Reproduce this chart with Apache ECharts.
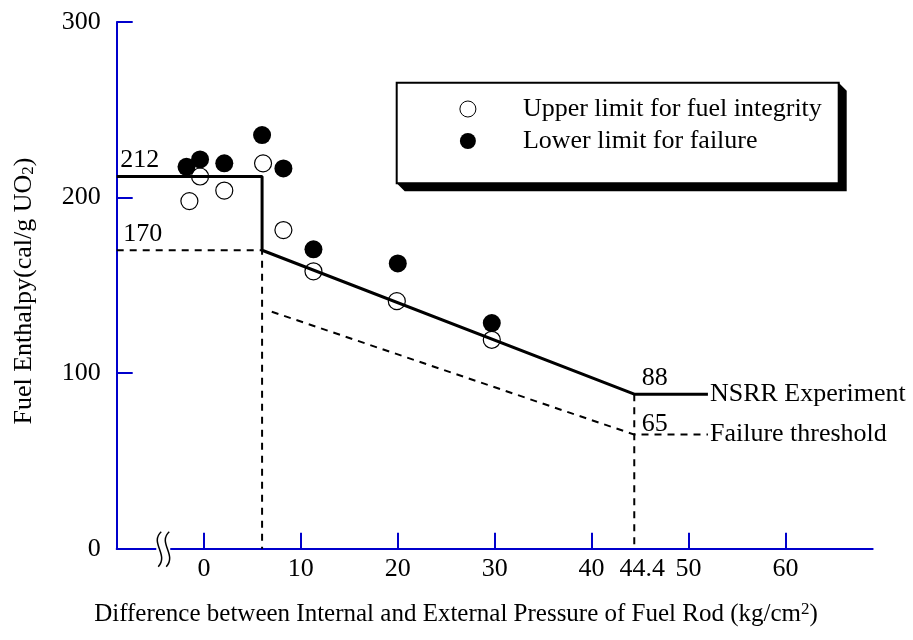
<!DOCTYPE html>
<html>
<head>
<meta charset="utf-8">
<script src="https://cdn.jsdelivr.net/npm/echarts@6/dist/echarts.min.js"></script>
<style>
  html, body { margin: 0; padding: 0; background: #fff; }
  #chart { width: 913px; height: 640px; }
</style>
</head>
<body>
<div id="chart"></div>
<script>
// ---- data ----
const xTickValues  = [0, 10, 20, 30, 40, 50, 60];
const xLabelValues = [0, 10, 20, 30, 40, 44.4, 50, 60];
const yTickValues  = [0, 100, 200, 300];

// measured rods: pressure difference (kg/cm2), enthalpy (cal/g UO2)
const upperLimitPts = [
  [-1.5, 198], [-0.4, 212], [2.1, 204], [6.1, 219.5],
  [8.2, 181.5], [11.3, 158], [19.9, 141], [29.7, 119]
];
const lowerLimitPts = [
  [-1.8, 217.5], [-0.4, 221.7], [2.1, 219.5], [6.0, 235.6],
  [8.2, 216.6], [11.3, 170.5], [20.0, 162.5], [29.7, 128.5]
];

// NSRR experiment limit curve
const nsrrX = [-9, 6, 6, 44.4, 52];
const nsrrY = [212, 212, 170, 88, 88];
// failure threshold curve
const thresholdX = [7, 44.4, 52];
const thresholdY = [135, 65, 65];
// dashed guide lines
const guideAX = [-9, 6, 6];
const guideAY = [170, 170, 0];
const guideBX = [44.4, 44.4];
const guideBY = [88, 0];
// annotated levels
const levelX = [-9, -9, 44.4, 44.4];
const levelY = [212, 170, 88, 65];

const SERIF = '"Liberation Serif", "Times New Roman", serif';
const BLUE = '#0000cc';
const zip = (xs, ys) => xs.map((x, i) => [x, ys[i]]);

const chart = echarts.init(document.getElementById('chart'));

const levelLabelCfg = [
  { distance: 3, offset: [0, -16] },
  { distance: 6, offset: [0, -16] },
  { distance: 7, offset: [0, -16] },
  { distance: 7, offset: [0, -10] }
];

chart.setOption({
  animation: false,
  backgroundColor: '#fff',
  grid: { left: 116.7, right: 40.3, top: 22, bottom: 91.3, containLabel: false },
  xAxis: {
    type: 'value', min: -9, max: 69,
    axisLine: { onZero: false, lineStyle: { color: BLUE, width: 2 } },
    axisTick: { inside: true, length: 16, customValues: xTickValues, lineStyle: { color: BLUE, width: 2 } },
    axisLabel: {
      customValues: xLabelValues, margin: 7, color: '#000',
      fontFamily: SERIF, fontSize: 26,
      formatter: v => v === 44.4 ? '{s|44.4}' : String(v),
      rich: { s: { fontFamily: SERIF, fontSize: 26, color: '#000', padding: [0, 0, 0, 16] } }
    },
    splitLine: { show: false }
  },
  yAxis: {
    type: 'value', min: 0, max: 300, interval: 100,
    axisLine: { show: true, onZero: false, lineStyle: { color: BLUE, width: 2 } },
    axisTick: { show: true, inside: true, length: 16, customValues: yTickValues, lineStyle: { color: BLUE, width: 2 } },
    axisLabel: { customValues: yTickValues, margin: 16, color: '#000', fontFamily: SERIF, fontSize: 26 },
    splitLine: { show: false }
  },
  legend: {
    orient: 'vertical', left: 459.4, top: 96, padding: 0,
    itemWidth: 100, itemHeight: 16, itemGap: 6,
    textStyle: { fontFamily: SERIF, fontSize: 26, color: '#000' },
    data: [
      { name: 'Upper limit for fuel integrity', icon: 'circle',
        itemStyle: { color: '#fff', borderColor: '#000', borderWidth: 1, opacity: 1 } },
      { name: 'Lower limit for failure', icon: 'circle',
        itemStyle: { color: '#000', borderWidth: 0, opacity: 1 } }
    ]
  },
  series: [
    {
      type: 'line', data: zip(guideAX, guideAY), symbol: 'none', silent: true,
      lineStyle: { color: '#000', width: 2, type: [7, 6] }, z: 1
    },
    {
      type: 'line', data: zip(guideBX, guideBY), symbol: 'none', silent: true,
      lineStyle: { color: '#000', width: 2, type: [7, 6] }, z: 1
    },
    {
      type: 'line', data: zip(thresholdX, thresholdY), symbol: 'none', silent: true,
      lineStyle: { color: '#000', width: 2, type: [7, 6] }, z: 1,
      endLabel: { show: true, formatter: 'Failure threshold', distance: 2,
        fontFamily: SERIF, fontSize: 26, color: '#000' }
    },
    {
      type: 'line', data: zip(nsrrX, nsrrY), symbol: 'none', silent: true,
      lineStyle: { color: '#000', width: 3 }, z: 1,
      endLabel: { show: true, formatter: 'NSRR Experiment', distance: 2,
        fontFamily: SERIF, fontSize: 26, color: '#000' }
    },
    {
      type: 'scatter', silent: true, symbolSize: 1, z: 1,
      itemStyle: { color: 'rgba(0,0,0,0)', opacity: 1 },
      data: levelX.map((x, i) => ({
        value: [x, levelY[i]],
        label: {
          show: true, position: 'right', formatter: String(levelY[i]),
          distance: levelLabelCfg[i].distance, offset: levelLabelCfg[i].offset,
          fontFamily: SERIF, fontSize: 26, color: '#000', opacity: 1
        }
      }))
    },
    {
      name: 'Upper limit for fuel integrity', type: 'scatter', data: upperLimitPts,
      symbol: 'circle', symbolSize: 17, z: 3,
      itemStyle: { color: 'rgba(0,0,0,0)', borderColor: '#000', borderWidth: 1.2, opacity: 1 }
    },
    {
      name: 'Lower limit for failure', type: 'scatter', data: lowerLimitPts,
      symbol: 'circle', symbolSize: 18, z: 3,
      itemStyle: { color: '#000', opacity: 1 }
    }
  ]
});

// decorations: legend frame, axis break marks, axis titles
const bx = 396.7, by = 82.7, bw = 442, bh = 100.5, sh = 8;
const brk = chart.convertToPixel({ gridIndex: 0 }, [-4.3, 0]);
const wave = dx => ({
  type: 'bezierCurve', z: 5,
  shape: {
    x1: brk[0] + dx + 3, y1: brk[1] - 17,
    cpx1: brk[0] + dx - 9, cpy1: brk[1] - 6,
    cpx2: brk[0] + dx + 11, cpy2: brk[1] + 6,
    x2: brk[0] + dx, y2: brk[1] + 18
  },
  style: { stroke: '#000', lineWidth: 1.5, fill: null }
});

chart.setOption({
  graphic: [
    {
      type: 'polygon', z: 3,
      shape: { points: [[bx, by + bh], [bx + bw, by + bh], [bx + bw, by], [bx + bw + sh, by + sh],
                        [bx + bw + sh, by + bh + sh], [bx + sh, by + bh + sh]] },
      style: { fill: '#000' }
    },
    {
      type: 'rect', z: 3,
      shape: { x: bx, y: by, width: bw, height: bh },
      style: { fill: '#fff', stroke: '#000', lineWidth: 2 }
    },
    {
      type: 'rect', z: 4,
      shape: { x: brk[0] - 6, y: brk[1] - 3, width: 14, height: 6 },
      style: { fill: '#fff' }
    },
    wave(-4), wave(4),
    {
      type: 'text', z: 5, x: 456, y: 614,
      style: {
        text: '{t|Difference between Internal and External Pressure of Fuel Rod (kg/cm}{sup|2}{t|)}',
        align: 'center', verticalAlign: 'middle',
        rich: {
          t: { fontFamily: SERIF, fontSize: 25, fill: '#000' },
          sup: { fontFamily: SERIF, fontSize: 17, fill: '#000', verticalAlign: 'top' }
        }
      }
    },
    {
      type: 'text', z: 5, x: 24, y: 291, rotation: Math.PI / 2,
      style: {
        text: '{t|Fuel Enthalpy(cal/g UO}{sub|2}{t|)}',
        align: 'center', verticalAlign: 'middle',
        rich: {
          t: { fontFamily: SERIF, fontSize: 26, fill: '#000' },
          sub: { fontFamily: SERIF, fontSize: 17, fill: '#000', verticalAlign: 'bottom' }
        }
      }
    }
  ]
});
</script>
</body>
</html>
